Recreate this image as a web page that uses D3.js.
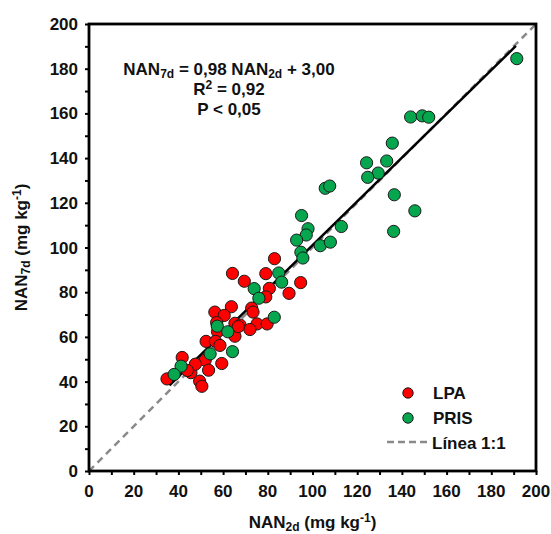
<!DOCTYPE html>
<html>
<head>
<meta charset="utf-8">
<script src="https://cdn.jsdelivr.net/npm/d3@7"></script>
<style>
  html, body { margin: 0; padding: 0; background: #fff; }
  svg { display: block; font-family: "Liberation Sans", Arial, sans-serif; font-weight: bold; }
</style>
</head>
<body>
<svg id="chart" width="551" height="534"></svg>
<script>
// NAN after 2 days (x) vs NAN after 7 days (y), mg kg-1
const lpaX = [83.0, 64.2, 69.5, 79.1, 94.7, 89.5, 80.7, 79.1, 63.7, 56.3, 60.5, 72.8, 73.4, 65.3, 67.6, 75.2, 79.7, 72.0, 57.1, 57.5, 65.3, 52.4, 56.6, 58.6, 59.4, 41.7, 52.0, 53.5, 45.6, 47.6, 49.5, 50.5, 34.9, 44.0, 66.8];
const lpaY = [95.0, 88.4, 84.9, 88.3, 84.3, 79.5, 81.7, 77.9, 73.5, 71.1, 69.6, 72.9, 71.1, 66.1, 65.3, 65.8, 65.8, 63.3, 66.4, 62.3, 60.3, 58.0, 58.0, 56.2, 48.1, 50.8, 49.6, 45.1, 44.0, 47.8, 40.2, 37.9, 41.2, 45.0, 64.6];

const prisX = [191.4, 143.9, 149.1, 152.0, 135.7, 124.2, 133.2, 129.4, 124.7, 136.6, 145.8, 136.3, 105.7, 107.7, 95.1, 98.0, 97.2, 92.9, 112.9, 103.5, 108.0, 94.8, 95.7, 84.9, 86.2, 73.9, 76.0, 82.9, 57.4, 62.1, 64.2, 54.2, 41.2, 38.1];
const prisY = [184.5, 158.4, 158.9, 158.3, 146.7, 137.9, 138.7, 133.3, 131.4, 123.6, 116.4, 107.2, 126.5, 127.5, 114.3, 108.4, 105.6, 103.3, 109.4, 100.8, 102.4, 97.9, 95.3, 88.6, 84.5, 81.6, 77.3, 68.8, 64.8, 62.3, 53.4, 52.4, 46.9, 43.2];

// Fitted regression: NAN7d = 0,98 NAN2d + 3,00 over the observed range
const slope = 0.98, intercept = 3.00;
const fitRange = [36, 191];

const tickValues = [0, 20, 40, 60, 80, 100, 120, 140, 160, 180, 200];
const minorTicks = d3.range(0, 201, 10);

const legendItems = ["LPA", "PRIS", "Línea 1:1"];

const RED = "#ff0000", GREEN = "#05a64e", EDGE = "#1a1a1a";
const FS = 17, SUB = 12;

const svg = d3.select("#chart");
const plotL = 89, plotR = 536, plotT = 24, plotB = 471;

const x = d3.scaleLinear().domain([0, 200]).range([plotL, plotR]);
const y = d3.scaleLinear().domain([0, 200]).range([plotB, plotT]);

// minor + major ticks (same length, outward)
const xAxis = d3.axisBottom(x).tickValues(minorTicks).tickSize(4).tickFormat("");
const yAxis = d3.axisLeft(y).tickValues(minorTicks).tickSize(4).tickFormat("");
const gx = svg.append("g").attr("transform", `translate(0,${plotB})`).call(xAxis);
const gy = svg.append("g").attr("transform", `translate(${plotL},0)`).call(yAxis);
[gx, gy].forEach(g => {
  g.select(".domain").remove();
  g.selectAll(".tick line").attr("stroke", "#000").attr("stroke-width", 2);
});

// tick labels
svg.append("g").selectAll("text").data(tickValues).join("text")
  .attr("x", d => x(d)).attr("y", 497)
  .attr("text-anchor", "middle").attr("font-size", FS).attr("fill", "#111")
  .text(d => d);
svg.append("g").selectAll("text").data(tickValues).join("text")
  .attr("x", 78).attr("y", d => y(d) + 6)
  .attr("text-anchor", "end").attr("font-size", FS).attr("fill", "#111")
  .text(d => d);

// 1:1 line
svg.append("line")
  .attr("x1", x(0)).attr("y1", y(0)).attr("x2", x(200)).attr("y2", y(200))
  .attr("stroke", "#8a8a8a").attr("stroke-width", 2.5).attr("stroke-dasharray", "7,5");

// regression line
svg.append("line")
  .attr("x1", x(fitRange[0])).attr("y1", y(slope * fitRange[0] + intercept))
  .attr("x2", x(fitRange[1])).attr("y2", y(slope * fitRange[1] + intercept))
  .attr("stroke", "#000").attr("stroke-width", 2.5);

// points
function drawPoints(xs, ys, fill) {
  svg.append("g").selectAll("circle").data(xs.map((v, i) => [v, ys[i]])).join("circle")
    .attr("cx", d => x(d[0])).attr("cy", d => y(d[1])).attr("r", 6.1)
    .attr("fill", fill).attr("stroke", EDGE).attr("stroke-width", 1);
}
drawPoints(lpaX, lpaY, RED);
drawPoints(prisX, prisY, GREEN);

// frame
svg.append("rect")
  .attr("x", plotL).attr("y", plotT).attr("width", plotR - plotL).attr("height", plotB - plotT)
  .attr("fill", "none").attr("stroke", "#000").attr("stroke-width", 2.8);

// helper: text with sub/superscripts; parts = [text, shift] (shift>0 sub, <0 sup)
function richText(sel, parts) {
  let cur = 0;
  parts.forEach(([t, s]) => {
    const ts = sel.append("tspan").text(t).attr("dy", s - cur);
    if (s !== 0) ts.attr("font-size", SUB);
    cur = s;
  });
}

// equation block
const eq = svg.append("text").attr("x", 229).attr("y", 75)
  .attr("text-anchor", "middle").attr("font-size", FS).attr("fill", "#111");
richText(eq, [["NAN", 0], ["7d", 3], [" = 0,98 NAN", 0], ["2d", 3], [" + 3,00", 0]]);

const r2 = svg.append("text").attr("x", 229).attr("y", 95)
  .attr("text-anchor", "middle").attr("font-size", FS).attr("fill", "#111");
richText(r2, [["R", 0], ["2", -6], [" = 0,92", 0]]);

svg.append("text").attr("x", 229).attr("y", 115)
  .attr("text-anchor", "middle").attr("font-size", FS).attr("fill", "#111")
  .text("P < 0,05");

// axis titles
const xt = svg.append("text").attr("x", (plotL + plotR) / 2).attr("y", 528)
  .attr("text-anchor", "middle").attr("font-size", FS).attr("fill", "#111");
richText(xt, [["NAN", 0], ["2d", 3], [" (mg kg", 0], ["-1", -6], [")", 0]]);

const yt = svg.append("text")
  .attr("transform", `translate(27,${(plotT + plotB) / 2}) rotate(-90)`)
  .attr("text-anchor", "middle").attr("font-size", FS).attr("fill", "#111");
richText(yt, [["NAN", 0], ["7d", 3], [" (mg kg", 0], ["-1", -6], [")", 0]]);

// legend
const lg = svg.append("g");
lg.append("circle").attr("cx", 408).attr("cy", 393).attr("r", 5.2)
  .attr("fill", RED).attr("stroke", EDGE).attr("stroke-width", 1);
lg.append("circle").attr("cx", 408).attr("cy", 418).attr("r", 5.2)
  .attr("fill", GREEN).attr("stroke", EDGE).attr("stroke-width", 1);
lg.append("line").attr("x1", 387).attr("x2", 430).attr("y1", 442).attr("y2", 442)
  .attr("stroke", "#8a8a8a").attr("stroke-width", 2.5).attr("stroke-dasharray", "7,4");
lg.selectAll("text").data(legendItems).join("text")
  .attr("x", (d, i) => i < 2 ? 433 : 432)
  .attr("y", (d, i) => 399 + i * 25)
  .attr("font-size", FS).attr("fill", "#111")
  .text(d => d);
</script>
</body>
</html>
